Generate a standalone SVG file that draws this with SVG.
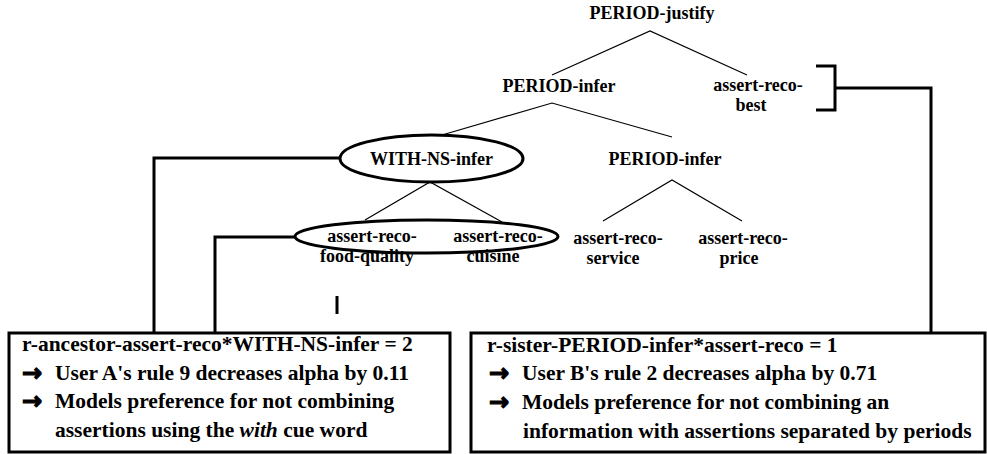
<svg xmlns="http://www.w3.org/2000/svg" width="987" height="454" viewBox="0 0 987 454">
<style>
.t{font-weight:bold;font-size:18px;fill:#000;text-anchor:middle}
.b{font-weight:bold;font-size:21.5px;fill:#000}
.ar{font-family:"DejaVu Sans",sans-serif;font-weight:bold;font-size:24px;fill:#000;stroke:#000;stroke-width:1.3}
.edge{stroke:#000;stroke-width:1.2;fill:none}
.conn{stroke:#000;stroke-width:3;fill:none}
.hl{stroke:#000;stroke-width:3;fill:none}
.box{stroke:#000;stroke-width:3;fill:#fff}
</style>
<rect width="987" height="454" fill="#fff"/>
<g id="tree-edges">
<path class="edge" d="M552,75 L650,31 L747,75"/>
<path class="edge" d="M442,135 L552,103 L672,137"/>
<path class="edge" d="M365,220 L430,182 L502,222"/>
<path class="edge" d="M603,221 L672,180 L742,221"/>
</g>
<g font-family="'Liberation Serif', 'Times New Roman', Times, Tinos, 'Noto Serif', 'DejaVu Serif', FreeSerif, serif">
<g id="n-period-justify"><text class="t" x="652" y="19">PERIOD-justify</text></g>
<g id="n-period-infer-1"><text class="t" x="559" y="92">PERIOD-infer</text></g>
<g id="n-best"><text class="t" x="758" y="91">assert-reco-</text><text class="t" x="751" y="111">best</text></g>
<g id="n-with-ns-infer"><ellipse class="hl" cx="431.5" cy="158.5" rx="91.5" ry="23.5"/><text class="t" x="431.5" y="165">WITH-NS-infer</text></g>
<g id="n-period-infer-2"><text class="t" x="665" y="165">PERIOD-infer</text></g>
<g id="n-pair"><ellipse class="hl" cx="426.5" cy="236.5" rx="131.5" ry="16.5"/></g>
<g id="n-food"><text class="t" x="372" y="242">assert-reco-</text><text class="t" x="367" y="262">food-quality</text></g>
<g id="n-cuisine"><text class="t" x="498" y="242">assert-reco-</text><text class="t" x="493" y="262">cuisine</text></g>
<g id="n-service"><text class="t" x="618" y="244">assert-reco-</text><text class="t" x="613" y="264">service</text></g>
<g id="n-price"><text class="t" x="743" y="244">assert-reco-</text><text class="t" x="739" y="264">price</text></g>
</g>
<g id="mark"><line class="conn" x1="337" y1="296" x2="337" y2="314"/></g>
<g id="connectors">
<path class="conn" d="M340,158 H154 V333"/>
<path class="conn" d="M295,237 H215 V333"/>
<path class="conn" d="M816,66 H835 V110 H816"/>
<path class="conn" d="M835,88 H931 V333"/>
</g>
<g id="box-a">
<rect class="box" x="9" y="333" width="441" height="119"/>
<g font-family="'Liberation Serif', 'Times New Roman', Times, Tinos, 'Noto Serif', 'DejaVu Serif', FreeSerif, serif">
<text class="b" x="22" y="351">r-ancestor-assert-reco*WITH-NS-infer = 2</text>
<text class="b" x="55" y="380">User A's rule 9 decreases alpha by 0.11</text>
<text class="b" x="55" y="408">Models preference for not combining</text>
<text class="b" x="55" y="437">assertions using the <tspan font-style="italic">with</tspan> cue word</text>
</g>
<text class="ar" x="22" y="381">→</text>
<text class="ar" x="22" y="409">→</text>
</g>
<g id="box-b">
<rect class="box" x="471" y="333" width="514" height="119"/>
<g font-family="'Liberation Serif', 'Times New Roman', Times, Tinos, 'Noto Serif', 'DejaVu Serif', FreeSerif, serif">
<text class="b" x="487" y="352">r-sister-PERIOD-infer*assert-reco = 1</text>
<text class="b" x="522" y="380">User B's rule 2 decreases alpha by 0.71</text>
<text class="b" x="522" y="409">Models preference for not combining an</text>
<text class="b" x="523" y="438">information with assertions separated by periods</text>
</g>
<text class="ar" x="489" y="381">→</text>
<text class="ar" x="489" y="410">→</text>
</g>
</svg>
